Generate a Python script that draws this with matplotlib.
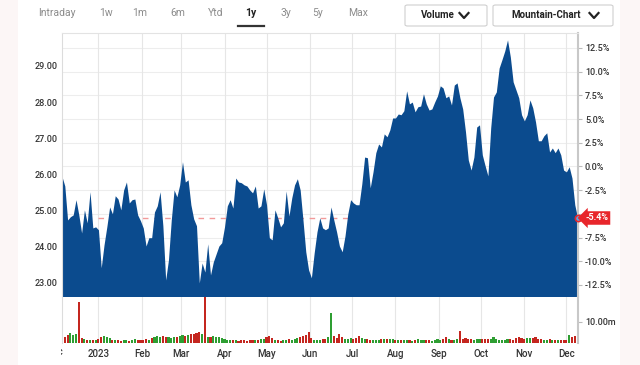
import numpy as np
import pandas as pd
import matplotlib
matplotlib.use("Agg")
import matplotlib.pyplot as plt
import matplotlib.dates as mdates
from matplotlib.patches import FancyBboxPatch, Rectangle
from matplotlib.lines import Line2D
from matplotlib.transforms import Bbox, TransformedBbox

plt.rcParams['font.family'] = ['Roboto', 'DejaVu Sans']

# ---- data (one value every 2 days from 2022-12-06) ----
START = "2022-12-06"
prices = [
    25.94, 25.68, 24.74, 24.83, 24.88, 25.30, 24.88, 24.38, 25.02, 24.66,
    25.52, 24.52, 24.55, 24.47, 23.42, 24.05, 24.55, 25.10, 24.91, 25.41,
    25.32, 25.02, 25.57, 25.79, 25.21, 25.30, 25.32, 24.88, 24.72, 24.52,
    24.02, 24.25, 24.25, 24.96, 25.13, 25.52, 24.58, 23.08, 23.64, 24.74,
    25.57, 25.38, 25.71, 26.35, 25.79, 25.85, 25.16, 24.77, 24.58, 23.00,
    23.55, 23.30, 24.08, 23.22, 23.58, 23.80, 24.02, 24.11, 24.55, 25.13,
    25.30, 25.07, 25.90, 25.79, 25.77, 25.71, 25.68, 25.57, 25.49, 25.68,
    25.07, 25.13, 25.60, 25.16, 24.25, 24.19, 25.02, 24.80, 24.55, 24.66,
    25.54, 24.85, 25.35, 25.71, 25.88, 25.57, 24.74, 23.86, 23.36, 23.14,
    23.83, 24.41, 24.80, 24.52, 24.47, 24.52, 25.10, 24.74, 24.41, 24.02,
    23.86, 24.30, 24.91, 25.30, 25.21, 25.16, 25.16, 25.74, 26.48, 26.46,
    25.63, 26.07, 26.60, 26.84, 26.76, 27.12, 27.04, 27.23, 27.56, 27.56,
    27.67, 27.65, 27.76, 28.31, 27.95, 28.00, 27.73, 27.87, 27.89, 28.23,
    27.95, 27.78, 27.81, 28.00, 28.17, 28.45, 28.39, 28.12, 28.17, 27.92,
    28.47, 28.53, 28.12, 27.81, 27.18, 26.40, 26.12, 26.48, 27.31, 27.37,
    26.54, 26.24, 25.96, 27.29, 28.14, 28.28, 28.94, 29.17, 29.41, 29.72,
    29.25, 28.56, 28.34, 28.12, 27.65, 27.48, 27.65, 28.06, 27.84, 27.45,
    26.93, 26.93, 27.07, 27.15, 26.62, 26.73, 26.60, 26.73, 26.54, 26.12,
    26.07, 26.21, 25.90, 25.16, 24.80,
]
# volume in millions, same dates
volumes = [
    2.4, 3.0, 3.6, 4.6, 3.8, 4.2, 19.0, 2.2, 1.8, 1.6,
    1.3, 1.2, 1.5, 1.7, 2.6, 3.4, 2.8, 2.2, 1.6, 1.4,
    1.2, 1.0, 1.3, 1.5, 1.1, 1.6, 1.9, 1.4, 1.2, 1.3,
    1.8, 1.5, 2.2, 2.9, 3.1, 2.6, 3.3, 3.0, 2.7, 2.4,
    2.6, 2.9, 3.2, 3.6, 3.4, 3.9, 4.1, 4.4, 4.6, 5.0,
    4.2, 21.5, 2.6, 3.0, 3.4, 2.8, 3.0, 2.4, 2.0, 1.6,
    1.5, 1.3, 1.2, 1.1, 1.4, 1.2, 1.0, 1.3, 1.6, 1.2,
    1.4, 1.8, 2.1, 2.8, 3.3, 2.2, 1.5, 1.2, 1.0, 1.3,
    1.6, 1.8, 1.4, 1.7, 2.2, 2.6, 3.2, 3.6, 5.0, 2.4,
    1.5, 1.3, 1.6, 1.8, 2.0, 3.0, 14.0, 3.2, 2.4, 4.3,
    2.6, 2.0, 1.8, 2.2, 1.9, 2.3, 3.3, 2.4, 2.0, 1.7,
    1.5, 1.3, 1.2, 1.5, 1.7, 1.8, 2.0, 2.1, 1.9, 1.6,
    1.5, 1.2, 1.4, 1.3, 1.6, 1.1, 1.4, 1.7, 1.3, 1.5,
    1.2, 1.4, 1.1, 1.6, 1.9, 1.5, 1.8, 2.6, 1.9, 1.4,
    1.5, 1.8, 5.4, 2.0, 2.2, 1.9, 1.7, 1.6, 1.8, 1.9,
    1.9, 1.7, 2.1, 2.0, 2.6, 1.8, 1.5, 1.6, 1.4, 1.7,
    1.8, 1.6, 2.2, 3.0, 2.4, 2.0, 2.3, 2.5, 2.4, 3.0,
    2.1, 1.9, 1.6, 1.5, 1.7, 1.4, 1.6, 1.3, 1.2, 1.5,
    1.6, 3.8, 3.0, 3.1, 2.4,
]
BASE = 26.22          # 0.0% reference price
LAST_PCT = "-5.4%"
price_ticks = [23, 24, 25, 26, 27, 28, 29]
pct_ticks = [12.5, 10.0, 7.5, 5.0, 2.5, 0.0, -2.5, -5.0, -7.5, -10.0, -12.5]
month_labels = ["2023", "Feb", "Mar", "Apr", "May", "Jun", "Jul", "Aug", "Sep", "Oct", "Nov", "Dec"]
tabs = ["Intraday", "1w", "1m", "6m", "Ytd", "1y", "3y", "5y", "Max"]

dates = pd.date_range(START, periods=len(prices), freq="2D")
months = pd.date_range("2023-01-01", "2023-12-01", freq="MS")
x0 = dates[0]
x1 = dates[0] + pd.Timedelta(days=368.3)

W, H = 640, 365
fig = plt.figure(figsize=(6.4, 3.65), dpi=100)

def fx(px):
    return px / W

def fy(py):
    return 1 - py / H

# faint side margins
fig.add_artist(Rectangle((0, 0), fx(18), 1, transform=fig.transFigure, fc='#fcf6f6', ec='none', zorder=0))
fig.add_artist(Rectangle((fx(620), 0), fx(20), 1, transform=fig.transFigure, fc='#fcf6f6', ec='none', zorder=0))

# ---- price panel ----
ax = fig.add_axes([fx(62), fy(297), fx(578) - fx(62), fy(33) - fy(297)])
ax.set_xlim(x0, x1)
ax.set_ylim(22.61, 29.91)
for q in pct_ticks:
    ax.axhline(BASE * (1 + q / 100), color='#ededed', lw=0.8, zorder=0)
for m in months:
    ax.axvline(m, color='#e6e6e6', lw=0.8, zorder=0)
ax.hlines(float(prices[-1]), pd.Timestamp("2023-01-01"), x1, colors='#f29a9a',
          linestyles=(0, (4, 4)), lw=1, zorder=1)
ax.fill_between(dates, prices, 22.0, color='#0b4b8e', lw=0, zorder=2)
ax.plot(dates[-1], prices[-1], 'o', ms=4.5, mfc='#5aa9e6', mec='#e8262b', mew=1.2,
        clip_on=False, zorder=6)

ax.set_yticks(price_ticks)
ax.set_yticklabels([f"{v:.2f}" for v in price_ticks])
ax.tick_params(axis='y', length=0, pad=3.5, labelsize=6.5, labelcolor='#333333')
ax.set_xticks([])
for lab in ax.get_yticklabels():
    lab.set_fontweight('medium')
ax.spines['bottom'].set_visible(False)
ax.spines['top'].set_color('#e3e3e3')
ax.spines['left'].set_color('#dcdcdc')
ax.spines['right'].set_color('#c8c8c8')
ax.spines['right'].set_linewidth(1.5)

sec = ax.secondary_yaxis('right', functions=(lambda p: (p / BASE - 1) * 100,
                                             lambda q: BASE * (1 + q / 100)))
sec.set_yticks(pct_ticks)
sec.set_yticklabels([f"{q:.1f}%" if q != -5.0 else "" for q in pct_ticks])
sec.tick_params(length=3, width=0.8, color='#bbbbbb', pad=2, labelsize=6.5, labelcolor='#333333')
sec.spines['right'].set_visible(False)
for lab in sec.get_yticklabels():
    lab.set_fontweight('medium')

# current value badge (sits where the -5.0% label would be)
fig.text(fx(585), fy(218), LAST_PCT, color='white', fontsize=6.5, fontweight='bold',
         ha='left', va='center', zorder=10,
         bbox=dict(boxstyle='larrow,pad=0.25', fc='#e8262b', ec='none'))

# ---- volume panel ----
axv = fig.add_axes([fx(62), fy(343), fx(578) - fx(62), fy(297) - fy(343)])
axv.set_xlim(x0, x1)
axv.set_ylim(0, 21.5)
colors = ['#2e9e32' if i > 0 and prices[i] > prices[i - 1] else '#c4261f' for i in range(len(prices))]
for m in months:
    axv.axvline(m, color='#e6e6e6', lw=0.8, zorder=0)
axv.bar(dates, volumes, width=1.5, color=colors, lw=0, zorder=2)
axv.yaxis.tick_right()
axv.set_yticks([10])
axv.set_yticklabels(["10.00m"])
axv.tick_params(axis='y', length=3, width=0.8, color='#bbbbbb', pad=2, labelsize=6.5, labelcolor='#333333')
axv.set_xticks(months)
axv.set_xticklabels(month_labels)
axv.tick_params(axis='x', length=0, pad=4, labelsize=7, labelcolor='#333333')
for lab in axv.get_xticklabels() + axv.get_yticklabels():
    lab.set_fontweight('medium')
for s in ['top', 'bottom']:
    axv.spines[s].set_visible(False)
axv.spines['left'].set_color('#dcdcdc')
axv.spines['right'].set_color('#c8c8c8')
axv.spines['right'].set_linewidth(1.5)

# clipped "Dec" label at the left edge
t = axv.text(pd.Timestamp("2022-12-01"), -0.09, "Dec", transform=axv.get_xaxis_transform(),
             ha='center', va='top', fontsize=7, color='#333333', fontweight='medium', clip_on=True)
t.set_clip_box(TransformedBbox(Bbox([[fx(61), 0], [fx(578), fy(297)]]), fig.transFigure))

# ---- header ----
tab_x = [57, 106, 140, 178, 216, 251, 286, 318, 358]
for name, px in zip(tabs, tab_x):
    active = name == "1y"
    fig.text(fx(px), fy(13), name, ha='center', va='center', fontsize=7.5,
             color='#222222' if active else '#8c8c8c',
             fontweight='bold' if active else 'normal')
fig.add_artist(Line2D([fx(238), fx(264)], [fy(25.5), fy(25.5)], transform=fig.transFigure,
                      color='#333333', lw=1.6))

for bx0, bx1, label, tx, cx in [(405, 487, "Volume", 438, 464), (493, 613, "Mountain-Chart", 546, 594)]:
    fig.add_artist(FancyBboxPatch((fx(bx0), fy(26)), fx(bx1 - bx0), fy(5) - fy(26),
                                  boxstyle='round,pad=0,rounding_size=0.004',
                                  transform=fig.transFigure, fc='white', ec='#cfcfcf', lw=0.8))
    fig.text(fx(tx), fy(15.5), label, ha='center', va='center', fontsize=7,
             color='#222222', fontweight='bold')
    fig.add_artist(Line2D([fx(cx - 4.5), fx(cx), fx(cx + 4.5)], [fy(13), fy(18), fy(13)],
                          transform=fig.transFigure, color='#222222', lw=1.6))

fig.savefig("out.png", dpi=100)
